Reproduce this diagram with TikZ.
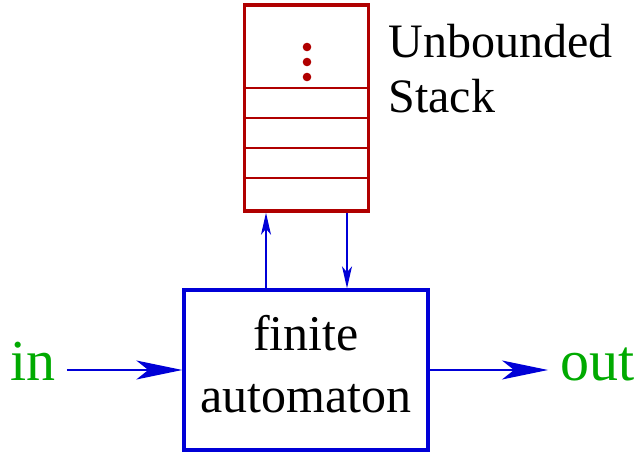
\documentclass[tikz,border=0pt]{standalone}
\usepackage{fontspec}
\setmainfont{Liberation Serif}
\usetikzlibrary{arrows.meta}
\usetikzlibrary{positioning}
\definecolor{stackred}{RGB}{176,0,0}
\definecolor{boxblue}{RGB}{0,0,215}
\definecolor{iogreen}{RGB}{0,170,0}
\tikzset{bigflow/.style = {draw=boxblue, line width=0.65pt,
                           -{Stealth[length=23pt, width=9.5pt, inset=6pt]}}}
\tikzset{smallflow/.style = {draw=boxblue, line width=0.65pt,
                             -{Stealth[length=11pt, width=5pt, inset=3pt]}}}
\tikzset{cell/.style = {draw=stackred, line width=0.9pt}}
\tikzset{label/.style = {inner sep=0, font=\fontsize{24}{28}\selectfont}}
\tikzset{io/.style = {inner sep=0, text=iogreen, anchor=base west,
                      font=\fontsize{29}{34}\selectfont}}

\begin{document}
\begin{tikzpicture}[x=0.5pt, y=-0.5pt]
      \useasboundingbox (0,0) rectangle (637,453);
      \node [draw=stackred, line width=1.8pt, minimum width=62pt,
             minimum height=103pt, inner sep=0] (stack) at (306.5,108) {};
      \foreach \y in {88,118,148,178}
        \draw [cell] (246,\y) -- (367,\y);
      \foreach \y in {47,62,77}
        \fill [stackred] (307,\y) circle [radius=4.3];
      \node [label, anchor=north west, align=left] (stacktext) at (388,24)
            {Unbounded\\[-0.5pt]Stack};
      \node [draw=boxblue, line width=1.7pt, minimum width=122pt,
             minimum height=80pt, inner sep=0, align=center, text depth=6pt,
             font=\fontsize{25}{31}\selectfont] (fa) at (306,370)
            {finite\\automaton};
      \node [io] (in) at (10,381) {in};
      \node [io] (out) at (560,381) {out};
      \draw [smallflow] (fa.north -| 266,0) -- (stack.south -| 266,0);
      \draw [smallflow] (stack.south -| 347,0) -- (fa.north -| 347,0);
      \draw [bigflow] ([xshift=5.5pt]in.east |- fa.west) -- (fa.west);
      \draw [bigflow] (fa.east) -- ([xshift=-6pt]out.west |- fa.east);
    \end{tikzpicture}
\end{document}
